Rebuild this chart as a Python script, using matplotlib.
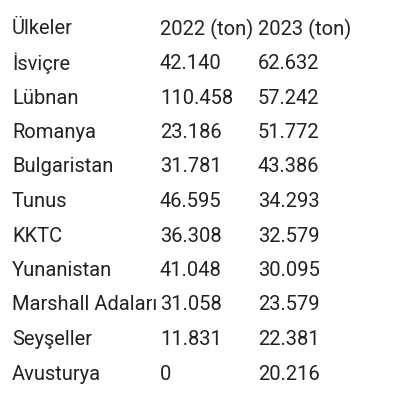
import matplotlib
matplotlib.use("Agg")
import matplotlib.pyplot as plt

headers = ["Ülkeler", "2022 (ton)", "2023 (ton)"]
countries = ["İsviçre", "Lübnan", "Romanya", "Bulgaristan", "Tunus", "KKTC",
             "Yunanistan", "Marshall Adaları", "Seyşeller", "Avusturya"]
v2022 = ["42.140", "110.458", "23.186", "31.781", "46.595", "36.308",
         "41.048", "31.058", "11.831", "0"]
v2023 = ["62.632", "57.242", "51.772", "43.386", "34.293", "32.579",
         "30.095", "23.579", "22.381", "20.216"]

fig = plt.figure(figsize=(4.1, 4.0), dpi=100)
fig.patch.set_facecolor("white")
xs = [12/410, 160/410, 258/410]
y0, dy = 29, 34.5
col = "#222222"
kw = dict(fontsize=14.5, family=["Roboto", "DejaVu Sans"], color=col, va="center", ha="left")
for j, h in enumerate(headers):
    fig.text(xs[j], 1 - y0/400, h, **kw)
for i, (c, a, b) in enumerate(zip(countries, v2022, v2023)):
    y = 1 - (y0 + (i+1)*dy)/400
    fig.text(xs[0], y, c, **kw)
    fig.text(xs[1], y, a, **kw)
    fig.text(xs[2], y, b, **kw)
fig.savefig("out.png", dpi=100, facecolor="white")
